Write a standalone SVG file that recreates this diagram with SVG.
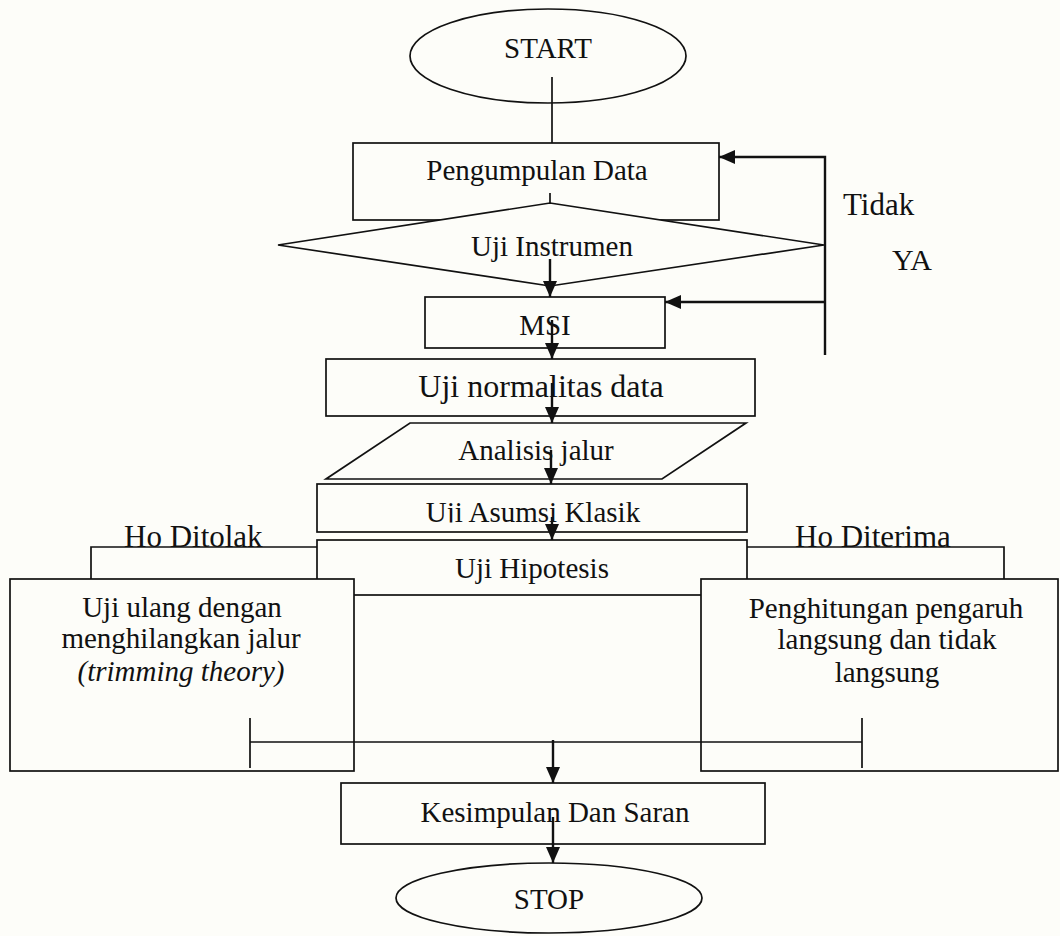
<svg xmlns="http://www.w3.org/2000/svg" width="1060" height="936" viewBox="0 0 1060 936">
<style>
.box{fill:#fdfdf9;stroke:#111;stroke-width:1.7}
.t{font-family:"Liberation Serif","Times New Roman",serif;font-size:29px;fill:#111;text-anchor:middle}
.l{font-family:"Liberation Serif","Times New Roman",serif;font-size:31px;fill:#111}
.c{fill:none;stroke:#111;stroke-width:1.7}
.a{fill:none;stroke:#111;stroke-width:2.4;marker-end:url(#ah)}
</style>
<defs>
<marker id="ah" markerUnits="userSpaceOnUse" markerWidth="16" markerHeight="14" refX="16" refY="7" orient="auto">
<path d="M0,0 L16,7 L0,14 z" fill="#111"/>
</marker>
<clipPath id="clipAs"><rect x="317" y="484" width="430" height="38.6"/></clipPath>
</defs>
<rect x="0" y="0" width="1060" height="936" fill="#fdfdf9"/>

<g id="start">
<ellipse class="box" cx="548" cy="56" rx="138" ry="47"/>
<text class="t" x="548" y="58">START</text>
</g>
<g id="pengumpulan">
<rect class="box" x="353" y="143" width="366" height="77"/>
<text class="t" x="537" y="180">Pengumpulan Data</text>
</g>
<g id="uji-instrumen">
<polygon class="box" points="550,203 824,245 550,286 278,245"/>
<text class="t" x="552" y="256">Uji Instrumen</text>
</g>
<g id="msi">
<rect class="box" x="425" y="297" width="240" height="51"/>
<text class="t" x="545" y="335">MSI</text>
</g>
<g id="normalitas">
<rect class="box" x="326" y="359" width="429" height="57"/>
<text class="t" x="541" y="397" style="font-size:32px">Uji normalitas data</text>
</g>
<g id="analisis">
<polygon class="box" points="410,423 746,423 662,479 326,479"/>
<text class="t" x="536" y="460">Analisis jalur</text>
</g>
<g id="asumsi">
<rect class="box" x="317" y="484" width="430" height="48"/>
<text class="t" x="533" y="522" clip-path="url(#clipAs)">Uji Asumsi Klasik</text>
</g>
<g id="hipotesis">
<rect class="box" x="317" y="540" width="430" height="55"/>
<text class="t" x="532" y="578">Uji Hipotesis</text>
</g>
<g id="uji-ulang">
<rect class="box" x="10" y="579" width="344" height="192"/>
<text class="t" x="182" y="617">Uji ulang dengan</text>
<text class="t" x="181" y="648">menghilangkan jalur</text>
<text class="t" x="181" y="681" font-style="italic">(trimming theory)</text>
</g>
<g id="penghitungan">
<rect class="box" x="701" y="579" width="357" height="192"/>
<text class="t" x="886" y="618">Penghitungan pengaruh</text>
<text class="t" x="887" y="649">langsung dan tidak</text>
<text class="t" x="887" y="682">langsung</text>
</g>
<g id="kesimpulan">
<rect class="box" x="341" y="783" width="424" height="61"/>
<text class="t" x="555" y="822">Kesimpulan Dan Saran</text>
</g>
<g id="stop">
<ellipse class="box" cx="549" cy="898" rx="153" ry="35"/>
<text class="t" x="549" y="909">STOP</text>
</g>

<g id="connectors">
<path class="c" d="M552,77 V143"/>
<path class="c" d="M550,193 V203"/>
<path class="a" d="M550,259 V297"/>
<path class="a" d="M552,320 V359"/>
<path class="a" d="M552,383 V423"/>
<path class="a" d="M551,450 V484"/>
<path class="a" d="M552,517 V540"/>
<path class="a" d="M825,355 V157 H719"/>
<path class="a" d="M825,302 H665"/>
<path class="c" d="M317,547 H91 V579"/>
<path class="c" d="M747,547 H1004 V579"/>
<path class="c" d="M250,718 V768 M862,718 V768 M250,742 H862"/>
<path class="a" d="M553,740 V783"/>
<path class="a" d="M553,817 V863"/>
</g>

<g id="labels">
<text class="l" x="843" y="215">Tidak</text>
<text class="l" x="892" y="270" style="font-size:30px">YA</text>
<text class="l" x="124" y="547">Ho Ditolak</text>
<text class="l" x="795" y="547">Ho Diterima</text>
</g>
</svg>
